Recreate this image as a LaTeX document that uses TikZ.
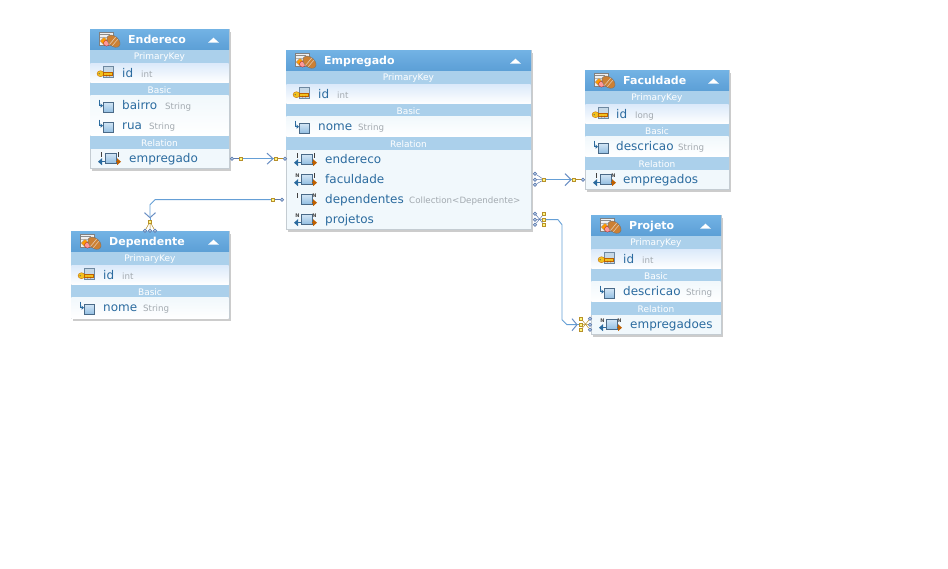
\documentclass[tikz,border=0pt]{standalone}
\usepackage{fontspec}
\setmainfont{DejaVu Sans}
\definecolor{hdtop}{HTML}{72B2E4}
\definecolor{hdbot}{HTML}{5C9FD6}
\definecolor{bandc}{HTML}{ABD0EB}
\definecolor{namec}{HTML}{2B6B9F}
\definecolor{typec}{HTML}{A3AAB0}
\definecolor{rowa}{HTML}{F1F8FC}
\definecolor{keyrow}{HTML}{DCEAFA}
\definecolor{boxb}{HTML}{C4CCD2}
\definecolor{linec}{HTML}{659FD6}
\definecolor{wingc}{HTML}{6A8FC4}
\definecolor{goldc}{HTML}{B8902A}
\definecolor{termc}{HTML}{5C7AAE}
\definecolor{sqtop}{HTML}{D0E4F5}
\definecolor{sqbot}{HTML}{8FBCE0}
\definecolor{sqb}{HTML}{4A6A88}
\definecolor{keyc}{HTML}{F2C21E}
\definecolor{cardc}{HTML}{C6D8E6}
\tikzset{
  x=1pt,y=-1pt,
  plain/.style={inner sep=0pt,outer sep=0pt,draw=none,rectangle},
  boxnode/.style={plain,anchor=north west,fill=rowa,draw=boxb,line width=.5pt},
  shadowbox/.style={fill=black!20,draw=none},
  header/.style={plain,anchor=north west,top color=hdtop,bottom color=hdbot},
  bandnode/.style={plain,anchor=north west,fill=bandc},
  bandtext/.style={text=white,inner sep=0pt,font=\fontsize{9}{10}\selectfont},
  titletext/.style={text=white,anchor=base west,inner sep=0pt,font=\fontsize{11}{13}\selectfont\bfseries},
  nametext/.style={text=namec,anchor=base west,inner sep=0pt,font=\fontsize{12}{14}\selectfont},
  typetext/.style={text=typec,anchor=base west,inner sep=0pt,font=\fontsize{8.7}{10}\selectfont},
  conn/.style={draw=linec,line width=.9pt},
  wing/.style={draw=wingc,line width=1pt},
  term/.style={circle,draw=termc,fill=sqtop,line width=.7pt,minimum size=3.2pt,inner sep=0pt},
  gold/.style={rectangle,draw=goldc,fill=yellow!50,line width=.7pt,minimum size=3.2pt,inner sep=0pt},
  tiny/.style={draw=goldc,line width=.5pt},
  tinyb/.style={draw=termc,line width=.5pt},
  nmark/.style={text=black!70,inner sep=0pt,font=\fontsize{5}{5}\selectfont\bfseries},
}
\newcommand{\entitybox}[6]{%
  \fill[shadowbox] (#2+2,#3+2) rectangle (#2+#4+2,#3+#5+2);
  \node[boxnode,minimum width=#4,minimum height=#5] (#1) at (#2,#3) {};
  \node[header,minimum width=#4,minimum height=20] (#1h) at (#2,#3) {};
  \headicon{#2+8}{#3+2}
  \node[titletext] (#1t) at (#2+38,#3+14) {#6};
  \fill[white] (#2+#4-21,#3+13) -- (#2+#4-15.5,#3+8) -- (#2+#4-10,#3+13) -- cycle;
}
\newcommand{\headicon}[2]{%
  \begin{scope}[shift={(#1,#2)}]
    \filldraw[fill=black!6,draw=black!50,line width=.5pt] (1,1) rectangle (15,14);
    \fill[black!45] (2,2.5) rectangle (12,3.6);
    \fill[black!30] (2,5) rectangle (13,5.6);
    \fill[orange!80!yellow,draw=black!35,line width=.3pt] (6,5.5) -- (10,9.5) -- (6,13.5) -- (2,9.5) -- cycle;
    \fill[red!40!white,draw=red!50!black,line width=.2pt] (8.5,11.5) circle (3);
    \begin{scope}[shift={(15.5,9.5)},rotate=-40]
      \fill[brown!80!orange,draw=black!55,line width=.4pt] (0,0) ellipse (7.5 and 5);
      \draw[brown!40!white,line width=.6pt] (-1,-4.8) -- (-1,4.8);
      \draw[brown!45!white,line width=.6pt] (2,-4.4) -- (2,4.4);
    \end{scope}
  \end{scope}}
\newcommand{\band}[6]{%
  \node[bandnode,minimum width=#4,minimum height=#5] (#1) at (#2,#3) {};
  \node[bandtext] (#1x) at (#2+#4/2,#3+#5/2+.8) {#6};
}
\newcommand{\keyrow}[5]{%
  \node[plain,anchor=north west,top color=keyrow,bottom color=white,minimum width=#4,minimum height=#5] (#1) at (#2,#3) {};
}
\newcommand{\whiterow}[5]{%
  \node[plain,anchor=north west,top color=rowa,bottom color=white,minimum width=#4,minimum height=#5] (#1) at (#2,#3) {};
}
\newcommand{\attr}[6]{%
  \node[nametext] (#1) at (#2,#3) {#4};
  \node[typetext] (#1y) at (#5,#3) {#6};
}
\newcommand{\keyicon}[2]{%
  \begin{scope}[shift={(#1,#2)}]
    \filldraw[fill=cardc,draw=sqb!80,line width=.5pt] (5,-6) rectangle (15,4.5);
    \fill[keyc,draw=black!25!orange,line width=.3pt] (2.5,1) ellipse (3.5 and 3);
    \fill[keyc,draw=black!25!orange,line width=.3pt] (5,-.2) rectangle (14.5,2.2);
    \fill[black!30!orange] (8,2.2) rectangle (9,3.6) (11,2.2) rectangle (12,3.6);
    \fill[black!60] (1.2,1) circle (.7);
  \end{scope}}
\newcommand{\basicicon}[2]{%
  \begin{scope}[shift={(#1,#2)}]
    \filldraw[top color=sqtop,bottom color=sqbot,draw=sqb,line width=.8pt] (5,-3) rectangle (15,7);
    \draw[draw=namec,line width=.8pt] (1,-6) -- (1,0) -- (3,0);
    \fill[namec] (5,0) -- (2.5,-2.2) -- (2.5,2.2) -- cycle;
  \end{scope}}
\newcommand{\relicon}[5]{%
  \begin{scope}[shift={(#1,#2)}]
    \filldraw[top color=sqtop,bottom color=sqbot,draw=sqb,line width=.8pt] (7,-5) rectangle (18,5);
    \ifnum#5=1
      \fill[namec] (0,3) -- (4,-.5) -- (4,6.5) -- cycle;
      \draw[namec,line width=.8pt] (4,3) -- (7,3);
    \fi
    \fill[black!25!orange] (23,3) -- (19,-.5) -- (19,6.5) -- cycle;
    \draw[black!25!orange,line width=.8pt] (18,3) -- (19,3);
    \ifx#3N\node[nmark] at (3.5,-4) {N};\else\draw[black!75,line width=.7pt] (3.5,-6.5) -- (3.5,-2);\fi
    \ifx#4N\node[nmark] at (20.5,-4) {N};\else\draw[black!75,line width=.7pt] (20.5,-6.5) -- (20.5,-2);\fi
  \end{scope}}
\begin{document}
\begin{tikzpicture}
\useasboundingbox (0,0) rectangle (948,569);
\fill[white] (0,0) rectangle (948,569);
\begin{scope}[yshift=-.7pt]

% ---------- Endereco
\entitybox{en}{90}{29}{139}{139}{Endereco}
\band{enb1}{90.3}{49}{138.4}{14}{PrimaryKey}
\keyrow{enk}{90.3}{63}{138.4}{19}{}
\band{enb2}{90.3}{82}{138.4}{13}{Basic}
\whiterow{enr}{90.3}{95}{138.4}{40}{}
\band{enb3}{90.3}{135}{138.4}{13}{Relation}
\keyicon{98}{72}
\attr{enid}{122}{77}{id}{141}{int}
\basicicon{98}{105}
\attr{enba}{122}{109}{bairro}{165}{String}
\basicicon{98}{125}
\attr{enru}{122}{129}{rua}{149}{String}
\relicon{98}{158}{1}{1}{1}
\attr{enem}{129}{162}{empregado}{0}{}

% ---------- Empregado
\entitybox{em}{286}{50}{245}{179}{Empregado}
\band{emb1}{286.3}{70}{244.4}{14}{PrimaryKey}
\keyrow{emk}{286.3}{84}{244.4}{19}{}
\band{emb2}{286.3}{103}{244.4}{13}{Basic}
\whiterow{emr}{286.3}{116}{244.4}{20}{}
\band{emb3}{286.3}{136}{244.4}{13}{Relation}
\keyicon{294}{93}
\attr{emid}{318}{98}{id}{337}{int}
\basicicon{294}{126}
\attr{emno}{318}{130}{nome}{358}{String}
\relicon{294}{159}{1}{1}{1}
\attr{emen}{325}{163}{endereco}{0}{}
\relicon{294}{179}{N}{1}{1}
\attr{emfa}{325}{183}{faculdade}{0}{}
\relicon{294}{199}{1}{N}{0}
\attr{emde}{325}{203}{dependentes}{409}{Collection<Dependente>}
\relicon{294}{219}{N}{N}{1}
\attr{empr}{325}{223}{projetos}{0}{}

% ---------- Faculdade
\entitybox{fa}{585}{70}{144}{119}{Faculdade}
\band{fab1}{585.3}{90}{143.4}{14}{PrimaryKey}
\keyrow{fak}{585.3}{104}{143.4}{19}{}
\band{fab2}{585.3}{123}{143.4}{13}{Basic}
\whiterow{far}{585.3}{136}{143.4}{20}{}
\band{fab3}{585.3}{156}{143.4}{13}{Relation}
\keyicon{593}{113}
\attr{faid}{616}{118}{id}{635}{long}
\basicicon{593}{146}
\attr{fade}{616}{150}{descricao}{678}{String}
\relicon{593}{179}{1}{N}{1}
\attr{faem}{623}{183}{empregados}{0}{}

% ---------- Projeto
\entitybox{pr}{591}{215}{130}{119}{Projeto}
\band{prb1}{591.3}{235}{129.4}{14}{PrimaryKey}
\keyrow{prk}{591.3}{249}{129.4}{19}{}
\band{prb2}{591.3}{268}{129.4}{13}{Basic}
\whiterow{prr}{591.3}{281}{129.4}{20}{}
\band{prb3}{591.3}{301}{129.4}{13}{Relation}
\keyicon{599}{258}
\attr{prid}{623}{263}{id}{642}{int}
\basicicon{599}{291}
\attr{prde}{623}{295}{descricao}{686}{String}
\relicon{599}{324}{N}{N}{1}
\attr{prem}{630}{328}{empregadoes}{0}{}

% ---------- Dependente
\entitybox{de}{71}{231}{158}{87}{Dependente}
\band{deb1}{71.3}{251}{157.4}{14}{PrimaryKey}
\keyrow{dek}{71.3}{265}{157.4}{19}{}
\band{deb2}{71.3}{284}{157.4}{13}{Basic}
\whiterow{der}{71.3}{297}{157.4}{21}{}
\keyicon{79}{274}
\attr{deid}{103}{279}{id}{122}{int}
\basicicon{79}{307}
\attr{deno}{103}{311}{nome}{143}{String}

% ---------- connector: Endereco -> Empregado
\node[term] (a1) at (232,158) {};
\node[gold] (a2) at (241,158) {};
\coordinate (a3) at (273,158);
\node[gold] (a4) at (276,158) {};
\node[term] (a5) at (285,158) {};
\draw[tinyb] (a1) -- (a2);
\draw[conn] (a2) -- (a3);
\draw[wing] (267,152.5) -- (a3) -- (267,163.5);
\draw[conn] (a3) -- (a4);
\draw[tiny] (a4) -- (a5);

% ---------- connector: Empregado -> Faculdade
\node[term] (b1) at (535,173) {};
\node[term] (b2) at (535,179) {};
\node[term] (b3) at (535,184) {};
\node[gold] (b4) at (544,179) {};
\coordinate (b5) at (571,179);
\node[gold] (b6) at (574,179) {};
\node[term] (b7) at (583,179) {};
\draw[tinyb] (b1) -- (b4) (b2) -- (b4) (b3) -- (b4);
\draw[conn] (b4) -- (b5);
\draw[wing] (565,173) -- (b5) -- (565,185);
\draw[conn] (b5) -- (b6);
\draw[tiny] (b6) -- (b7);

% ---------- connector: Empregado -> Projeto
\node[term] (c1) at (535,213) {};
\node[term] (c2) at (535,219) {};
\node[term] (c3) at (535,224) {};
\node[gold] (c4) at (544,213) {};
\node[gold] (c5) at (544,219) {};
\node[gold] (c6) at (544,224) {};
\draw[tinyb] (c1) -- (c6) (c3) -- (c4) (c2) -- (c5);
\coordinate (c7) at (558,219);
\coordinate (c8) at (562,224);
\coordinate (c9) at (562,319);
\coordinate (c10) at (567,324);
\coordinate (c11) at (577,324);
\node[gold] (d1) at (581,318) {};
\node[gold] (d2) at (581,324) {};
\node[gold] (d3) at (581,329) {};
\node[term] (d4) at (590,318) {};
\node[term] (d5) at (590,324) {};
\node[term] (d6) at (590,329) {};
\draw[conn] (c5) -- (c7) -- (c8) -- (c9) -- (c10) -- (c11);
\draw[wing] (572,318) -- (c11) -- (572,330);
\draw[conn] (c11) -- (d2);
\draw[tiny] (d1) -- (d6) (d3) -- (d4) (d2) -- (d5);

% ---------- connector: Empregado -> Dependente
\node[term] (e1) at (282,199) {};
\node[gold] (e2) at (273,199) {};
\coordinate (e3) at (155,199);
\coordinate (e4) at (150,204);
\coordinate (e5) at (150,217);
\node[gold] (e6) at (150,221) {};
\node[term] (e7) at (145,230) {};
\node[term] (e8) at (150,230) {};
\node[term] (e9) at (155,230) {};
\draw[tinyb] (e1) -- (e2);
\draw[conn] (e2) -- (e3) -- (e4) -- (e5);
\draw[wing] (144.5,212) -- (e5) -- (155.5,212);
\draw[conn] (e5) -- (e6);
\draw[tiny] (e6) -- (e7) (e6) -- (e8) (e6) -- (e9);
\end{scope}
\end{tikzpicture}
\end{document}
